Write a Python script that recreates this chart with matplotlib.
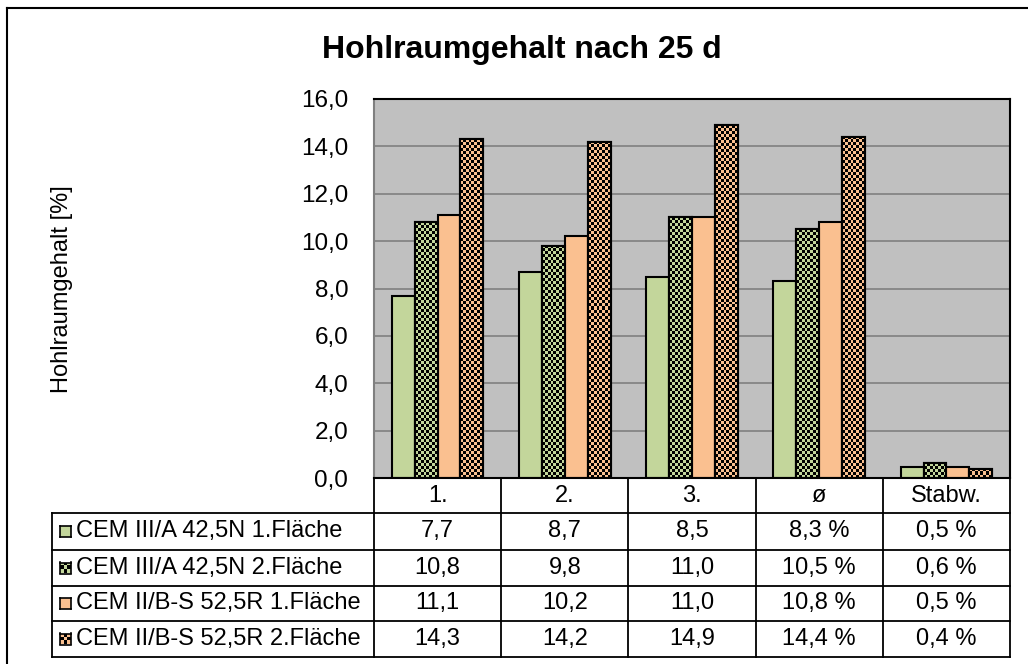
import numpy as np
import matplotlib
matplotlib.use("Agg")
import matplotlib.pyplot as plt
from matplotlib.lines import Line2D
from matplotlib.ticker import FuncFormatter

plt.rcParams['font.family'] = ['Liberation Sans', 'DejaVu Sans']

# ---------------- data ----------------
title = "Hohlraumgehalt nach 25 d"
ylabel = "Hohlraumgehalt [%]"
categories = ["1.", "2.", "3.", "ø", "Stabw."]
series_names = ["CEM III/A 42,5N 1.Fläche", "CEM III/A 42,5N 2.Fläche",
                "CEM II/B-S 52,5R 1.Fläche", "CEM II/B-S 52,5R 2.Fläche"]
s1 = [7.7, 8.7, 8.5, 8.3, 0.48]
s2 = [10.8, 9.8, 11.0, 10.5, 0.62]
s3 = [11.1, 10.2, 11.0, 10.8, 0.46]
s4 = [14.3, 14.2, 14.9, 14.4, 0.38]
series = [s1, s2, s3, s4]
colors = ["#C3D69B", "#C3D69B", "#FAC090", "#FAC090"]
checkered = [False, True, False, True]
pct_cols = [False, False, False, True, True]
yticks = [0, 2, 4, 6, 8, 10, 12, 14, 16]

W, H = 1028, 664
fig = plt.figure(figsize=(W / 100, H / 100), dpi=100)
fig.patch.set_facecolor("white")

TABLE_FS = 17

# plot area in pixel coords
L, R, T, B = 374, 1010, 99, 478
ax = fig.add_axes([L / W, 1 - B / H, (R - L) / W, (B - T) / H])
ax.set_facecolor("#C0C0C0")
ax.set_xlim(-0.5, len(categories) - 0.5)
ax.set_ylim(0, 16)
ax.set_yticks(yticks)
ax.yaxis.set_major_formatter(FuncFormatter(lambda v, p: f"{v:.1f}".replace(".", ",")))
ax.tick_params(axis='y', length=0, pad=18.5, labelsize=17.5)
ax.set_xticks([])
ax.grid(axis='y', color="#808080", linewidth=1.2)
ax.set_axisbelow(True)
for s in ["top", "right", "bottom"]:
    ax.spines[s].set_color("black")
    ax.spines[s].set_linewidth(1.5)
ax.spines["left"].set_color("#808080")
ax.spines["left"].set_linewidth(1.5)

x = np.arange(len(categories))
bw = 0.18
offsets = (np.arange(4) - 1.5) * bw

px_per_x = (R - L) / len(categories)
px_per_y = (B - T) / 16
cell = 3.0


def checker(color, nx, ny):
    rgb = np.array(matplotlib.colors.to_rgb(color))
    img = np.zeros((ny, nx, 3))
    for j in range(ny):
        for i in range(nx):
            img[j, i] = rgb if (i + j) % 2 == 0 else (0, 0, 0)
    return img


for k in range(4):
    bars = ax.bar(x + offsets[k], series[k], width=bw, color=colors[k],
                  edgecolor="black", linewidth=1.5, zorder=2)
    if checkered[k]:
        for b in bars:
            x0, y0 = b.get_x(), b.get_y()
            w, h = b.get_width(), b.get_height()
            nx = max(1, int(round(w * px_per_x / cell)))
            ny = max(1, int(round(h * px_per_y / cell)))
            im = ax.imshow(checker(colors[k], nx, ny), extent=(x0, x0 + w, y0, y0 + h),
                           origin="lower", aspect="auto", interpolation="nearest", zorder=2.5)
            im.set_clip_path(b)
        ax.bar(x + offsets[k], series[k], width=bw, fill=False,
               edgecolor="black", linewidth=1.5, zorder=3)
ax.set_xlim(-0.5, len(categories) - 0.5)
ax.set_ylim(0, 16)

# ---------------- table ----------------
def fy(py):
    return 1 - py / H

def fx(px):
    return px / W

row_edges = [478, 513, 550, 586, 621, 657]
table_left = 52
col_edges = [L + i * px_per_x for i in range(len(categories) + 1)]
lw = 1.3

def line(xs, ys):
    fig.add_artist(Line2D([fx(v) for v in xs], [fy(v) for v in ys], color="black",
                          linewidth=lw, solid_capstyle="projecting"))

line([L, R], [row_edges[0], row_edges[0]])
for r in row_edges[1:]:
    line([table_left, R], [r, r])
for c in col_edges:
    line([c, c], [row_edges[0], row_edges[-1]])
line([table_left, table_left], [row_edges[1], row_edges[-1]])

for i, cat in enumerate(categories):
    cx = (col_edges[i] + col_edges[i + 1]) / 2
    cy = (row_edges[0] + row_edges[1]) / 2
    fig.text(fx(cx), fy(cy), cat, ha="center", va="center", fontsize=TABLE_FS)

key = 11
for k in range(4):
    cy = (row_edges[k + 1] + row_edges[k + 2]) / 2
    kx0 = 60
    kax = fig.add_axes([fx(kx0), fy(cy + key / 2), key / W, key / H])
    kax.set_xticks([]); kax.set_yticks([])
    if checkered[k]:
        kax.imshow(checker(colors[k], 3, 3), aspect="auto", interpolation="nearest")
    else:
        kax.set_facecolor(colors[k])
    for s in kax.spines.values():
        s.set_color("black"); s.set_linewidth(1.2)
    fig.text(fx(76), fy(cy), series_names[k], ha="left", va="center", fontsize=TABLE_FS)
    for i in range(len(categories)):
        cx = (col_edges[i] + col_edges[i + 1]) / 2
        txt = f"{series[k][i]:.1f}".replace(".", ",")
        if pct_cols[i]:
            txt += " %"
        fig.text(fx(cx), fy(cy), txt, ha="center", va="center", fontsize=TABLE_FS)

fig.text(fx(522), fy(50), title, ha="center", va="center", fontsize=23, fontweight="bold")
fig.text(fx(62), fy(289), ylabel, ha="center", va="center", rotation=90, fontsize=17)

fig.add_artist(Line2D([fx(7), fx(W + 5)], [fy(8), fy(8)], color="black", linewidth=1.5))
fig.add_artist(Line2D([fx(7), fx(7)], [fy(8), fy(H + 5)], color="black", linewidth=1.5))

fig.savefig("out.png", dpi=100)
